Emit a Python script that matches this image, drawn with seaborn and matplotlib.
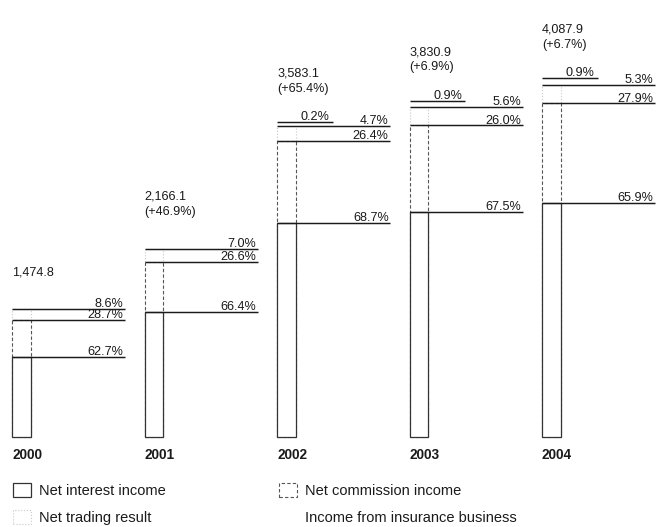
import matplotlib

matplotlib.use("Agg")
import matplotlib.pyplot as plt
import numpy as np
import pandas as pd
import seaborn as sns
from matplotlib.patches import Patch
from matplotlib.transforms import offset_copy

YEARS = ["2000", "2001", "2002", "2003", "2004"]
TOTALS = [1474.8, 2166.1, 3583.1, 3830.9, 4087.9]
GROWTH = [None, "+46.9%", "+65.4%", "+6.9%", "+6.7%"]

# shares of total income, in percent (bottom to top of each bar)
NET_INTEREST = [62.7, 66.4, 68.7, 67.5, 65.9]
NET_COMMISSION = [28.7, 26.6, 26.4, 26.0, 27.9]
NET_TRADING = [8.6, 7.0, 4.7, 5.6, 5.3]
INSURANCE = [np.nan, np.nan, 0.2, 0.9, 0.9]

LABELS = [
    "Net interest income",
    "Net commission income",
    "Net trading result",
    "Income from insurance business",
]

sns.set_theme(style="white")
plt.rcParams["font.family"] = ["Liberation Sans", "DejaVu Sans"]

INK = "#1a1a1a"
BAR_W = 0.143      # bar width, in category units
LINE_LEN = 0.853   # length of the share lines
SHORT_LEN = 0.42   # length of the insurance line
PX = 132.5         # pixels per category
FS = 9.1


def main() -> None:
    shares = pd.DataFrame(
        {
            "interest": NET_INTEREST,
            "commission": NET_COMMISSION,
            "trading": NET_TRADING,
            "insurance": INSURANCE,
        },
        index=YEARS,
    )
    amounts = shares.fillna(0).mul(TOTALS, axis=0) / 100
    cum = amounts.cumsum(axis=1)

    fig = plt.figure(figsize=(6.56, 5.27), dpi=100)
    ax = fig.add_axes([0, 0, 1, 1])

    # overlapping white bars, tallest first, so each segment keeps its own edge
    styles = [
        ("trading", "#c8c8c8", ":", 0.8),
        ("commission", "#555555", (0, (3, 2)), 0.8),
        ("interest", "#333333", "-", 0.9),
    ]
    for col, edge, ls, lw in styles:
        sns.barplot(
            x=YEARS,
            y=cum[col].to_numpy(),
            order=YEARS,
            width=BAR_W,
            color="white",
            saturation=1,
            edgecolor=edge,
            linestyle=ls,
            linewidth=lw,
            errorbar=None,
            ax=ax,
        )

    lift = offset_copy(ax.transData, fig=fig, x=0, y=2.2, units="points")
    for i, year in enumerate(YEARS):
        left = i - BAR_W / 2
        for col in ["interest", "commission", "trading"]:
            y = cum.loc[year, col]
            ax.hlines(y, left, left + LINE_LEN, color=INK, lw=1.05)
            ax.annotate(
                f"{shares.loc[year, col]:.1f}%",
                (left + LINE_LEN, y),
                xytext=(-1, 1.2),
                textcoords="offset points",
                ha="right",
                va="baseline",
                fontsize=FS,
                color=INK,
            )
        ins = shares.loc[year, "insurance"]
        if not np.isnan(ins):
            y = cum.loc[year, "insurance"]
            ax.hlines(y, left, left + SHORT_LEN, color=INK, lw=1.05, transform=lift)
            ax.annotate(
                f"{ins:.1f}%",
                (left + SHORT_LEN, y),
                xytext=(-2, 3.6),
                textcoords="offset points",
                ha="right",
                va="baseline",
                fontsize=FS,
                color=INK,
            )

        total_txt = f"{TOTALS[i]:,.1f}"
        if GROWTH[i]:
            total_txt += f"\n({GROWTH[i]})"
        ax.annotate(
            total_txt,
            (left, TOTALS[i]),
            xytext=(0, 22),
            textcoords="offset points",
            ha="left",
            va="bottom",
            fontsize=FS,
            linespacing=1.35,
            color=INK,
        )
        ax.annotate(
            year,
            (left, 0),
            xytext=(0, -13),
            textcoords="offset points",
            ha="left",
            va="center",
            fontsize=9.8,
            fontweight="bold",
            color=INK,
        )

    x0 = -BAR_W / 2 - 12 / PX
    ax.set_xlim(x0, x0 + 656 / PX)
    units_per_px = 1 / 0.087
    ax.set_ylim(-90 * units_per_px, (527 - 90) * units_per_px)
    ax.axis("off")

    handles = [
        Patch(facecolor="white", edgecolor="#333333", lw=0.9),
        Patch(facecolor="white", edgecolor="#c8c8c8", lw=0.8, linestyle=":"),
        Patch(facecolor="white", edgecolor="#555555", lw=0.8, linestyle=(0, (3, 2))),
        Patch(facecolor="white", edgecolor="none"),
    ]
    fig.legend(
        handles,
        [LABELS[0], LABELS[2], LABELS[1], LABELS[3]],
        loc="upper left",
        bbox_to_anchor=(13 / 656, 1 - 483 / 527),
        ncol=2,
        frameon=False,
        fontsize=10.5,
        handlelength=1.25,
        handleheight=1.05,
        handletextpad=0.5,
        columnspacing=7.8,
        labelspacing=0.85,
        borderpad=0,
        borderaxespad=0,
        labelcolor=INK,
    )

    fig.savefig("out.png", dpi=100)
    plt.close(fig)


if __name__ == "__main__":
    main()
